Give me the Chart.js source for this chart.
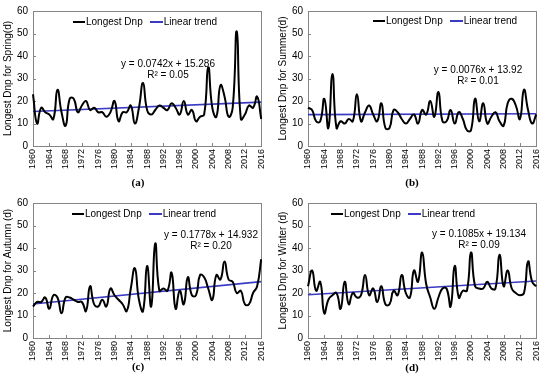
<!DOCTYPE html>
<html>
<head>
<meta charset="utf-8">
<script src="https://cdn.jsdelivr.net/npm/chart.js@4"></script>
<style>
  body { margin: 0; background: #fff; font-family: "Liberation Sans", Arial, sans-serif; }
  #wrap { position: relative; width: 550px; height: 384px; overflow: hidden; }
  .panel { position: absolute; width: 275px; height: 192px; }
  .panel canvas { position: absolute; left: 0; top: 0; }
  .legend { position: absolute; font-size: 10px; line-height: 12px; white-space: nowrap; display: flex; align-items: center; transform: translateY(-50%); }
  .legend .sw { display: inline-block; width: 12px; height: 2px; margin-right: 1px; }
  .legend .gap { display: inline-block; width: 7px; }
  .eq { position: absolute; font-size: 10px; line-height: 11px; text-align: center; white-space: nowrap; transform: translate(-50%, -6px); }
  .cap { position: absolute; font: bold 11px "Liberation Serif", "Times New Roman", serif; transform: translate(-50%, -50%); }
</style>
</head>
<body>
<div id="wrap"></div>
<script>
// categories
const years = [];
for (let y = 1960; y <= 2016; y++) years.push(String(y));
const xTickLabels = ['1960', '1964', '1968', '1972', '1976', '1980', '1984', '1988',
  '1992', '1996', '2000', '2004', '2008', '2012', '2016'];

// longest Dnp per season (days), 1960-2016
const springDnp = [23, 10, 17, 15, 14, 12, 25, 15, 9, 21,
  21, 15, 18, 20, 16, 17, 15, 15, 13, 15,
  20, 11, 15, 15, 18, 10, 17, 28, 16, 14,
  16, 18, 17, 16, 19, 17, 14, 20, 14, 16,
  11, 13, 14, 35, 17, 13, 27, 22, 13, 17,
  51, 12, 14, 18, 17, 22, 12];
const summerDnp = [17, 16, 11, 11, 21, 8, 32, 8, 11, 10,
  12, 11, 23, 11, 15, 18, 14, 11, 19, 8,
  8, 16, 15, 12, 10, 12, 14, 10, 16, 14,
  20, 13, 24, 11, 11, 16, 10, 15, 12, 7,
  7, 21, 11, 19, 10, 13, 15, 11, 9, 19,
  21, 18, 12, 25, 16, 10, 14];
const autumnDnp = [14, 16, 16, 18, 13, 19, 18, 11, 18, 18,
  17, 16, 16, 12, 23, 15, 14, 17, 14, 22,
  19, 17, 15, 12, 22, 31, 17, 12, 32, 14,
  42, 21, 22, 21, 29, 13, 21, 15, 27, 19,
  19, 28, 27, 22, 17, 28, 26, 34, 26, 25,
  20, 21, 15, 15, 20, 23, 35];
const winterDnp = [23, 30, 21, 25, 11, 17, 19, 20, 13, 25,
  15, 20, 18, 19, 28, 19, 22, 16, 23, 15,
  15, 21, 19, 28, 20, 18, 30, 25, 38, 24,
  18, 13, 18, 22, 22, 14, 32, 18, 21, 21,
  38, 23, 22, 22, 25, 22, 22, 37, 23, 30,
  22, 20, 19, 20, 34, 25, 23];

// linear trend values at 1960 and 2016
const trendStart = [15.36, 13.93, 15.11, 19.24];
const trendEnd = [19.52, 14.35, 25.07, 25.32];

const yTitles = ['Longest Dnp for Spring(d)', 'Longest Dnp for Summer(d)',
  'Longest Dnp for Autumn (d)', 'Longest Dnp for Winter (d)'];
const equations = ['y = 0.0742x + 15.286', 'y = 0.0076x + 13.92',
  'y = 0.1778x + 14.932', 'y = 0.1085x + 19.134'];
const rSquared = ['R² = 0.05', 'R² = 0.01', 'R² = 0.20', 'R² = 0.09'];
const captions = ['(a)', '(b)', '(c)', '(d)'];
const seriesList = [springDnp, summerDnp, autumnDnp, winterDnp];

const BLUE = '#3a3ac4';

// placement of each panel and its overlays
const panels = [
  { left: 0, top: 0, padTop: 10, legX: 73, legY: 22, eqX: 168, eqY: 64, capX: 138, capY: 182 },
  { left: 275, top: 0, padTop: 10, legX: 98, legY: 21, eqX: 203, eqY: 70, capX: 137, capY: 182 },
  { left: 0, top: 192, padTop: 11, legX: 72, legY: 22, eqX: 211, eqY: 43, capX: 138, capY: 174 },
  { left: 275, top: 192, padTop: 11, legX: 56, legY: 22, eqX: 204, eqY: 42, capX: 137, capY: 175 }
];

// plot box and inward tick marks
const frame = {
  id: 'frame',
  beforeDatasetsDraw(chart) {
    const { ctx, chartArea: a, scales } = chart;
    ctx.save();
    ctx.strokeStyle = '#858585';
    ctx.lineWidth = 1;
    ctx.strokeRect(Math.round(a.left) + 0.5, Math.round(a.top) + 0.5,
      Math.round(a.right - a.left), Math.round(a.bottom - a.top));
    ctx.beginPath();
    scales.y.ticks.forEach(t => {
      const py = Math.round(scales.y.getPixelForValue(t.value)) + 0.5;
      ctx.moveTo(a.left, py);
      ctx.lineTo(a.left + 3, py);
    });
    xTickLabels.forEach(l => {
      const px = Math.round(scales.x.getPixelForValue(years.indexOf(l))) + 0.5;
      ctx.moveTo(px, a.bottom);
      ctx.lineTo(px, a.bottom - 3);
    });
    ctx.stroke();
    ctx.restore();
  }
};

const wrap = document.getElementById('wrap');

panels.forEach((p, i) => {
  const div = document.createElement('div');
  div.className = 'panel';
  div.style.left = p.left + 'px';
  div.style.top = p.top + 'px';
  const canvas = document.createElement('canvas');
  canvas.width = 275;
  canvas.height = 178;
  canvas.style.width = '275px';
  canvas.style.height = '178px';
  div.appendChild(canvas);

  const leg = document.createElement('div');
  leg.className = 'legend';
  leg.style.left = p.legX + 'px';
  leg.style.top = p.legY + 'px';
  leg.innerHTML = '<span class="sw" style="background:#000"></span>Longest Dnp' +
    '<span class="gap"></span><span class="sw" style="background:' + BLUE + ';width:13px"></span>Linear trend';
  div.appendChild(leg);

  const eq = document.createElement('div');
  eq.className = 'eq';
  eq.style.left = p.eqX + 'px';
  eq.style.top = p.eqY + 'px';
  eq.innerHTML = equations[i] + '<br>' + rSquared[i];
  div.appendChild(eq);

  const cap = document.createElement('div');
  cap.className = 'cap';
  cap.style.left = p.capX + 'px';
  cap.style.top = p.capY + 'px';
  cap.textContent = captions[i];
  div.appendChild(cap);

  wrap.appendChild(div);

  new Chart(canvas, {
    type: 'line',
    data: {
      labels: years,
      datasets: [
        {
          label: 'Longest Dnp',
          data: seriesList[i],
          borderColor: '#000',
          borderWidth: 2,
          pointRadius: 0,
          tension: 0.5
        },
        {
          label: 'Linear trend',
          data: [{ x: years[0], y: trendStart[i] }, { x: years[years.length - 1], y: trendEnd[i] }],
          borderColor: BLUE,
          borderWidth: 1.6,
          pointRadius: 0,
          tension: 0
        }
      ]
    },
    options: {
      responsive: false,
      animation: false,
      layout: { padding: { top: p.padTop, right: 9, left: 0, bottom: 0 } },
      plugins: { legend: { display: false }, tooltip: { enabled: false } },
      scales: {
        x: {
          offset: false,
          grid: { display: false, drawTicks: false },
          border: { display: false },
          ticks: {
            autoSkip: false,
            minRotation: 90,
            maxRotation: 90,
            padding: 3,
            color: '#000',
            font: { family: 'Liberation Sans', size: 9 },
            callback: (v, idx) => xTickLabels.includes(years[idx]) ? years[idx] : null
          },
          afterFit: s => { s.height = 32; }
        },
        y: {
          min: 0,
          max: 60,
          grid: { display: false, drawTicks: false },
          border: { display: false },
          ticks: { stepSize: 10, padding: 5, color: '#000', font: { family: 'Liberation Sans', size: 10 } },
          title: {
            display: true,
            text: yTitles[i],
            color: '#000',
            padding: { top: 2, bottom: 0 },
            font: { family: 'Liberation Sans', size: 10 }
          },
          afterFit: s => { s.width = 33; }
        }
      }
    },
    plugins: [frame]
  });
});
</script>
</body>
</html>
